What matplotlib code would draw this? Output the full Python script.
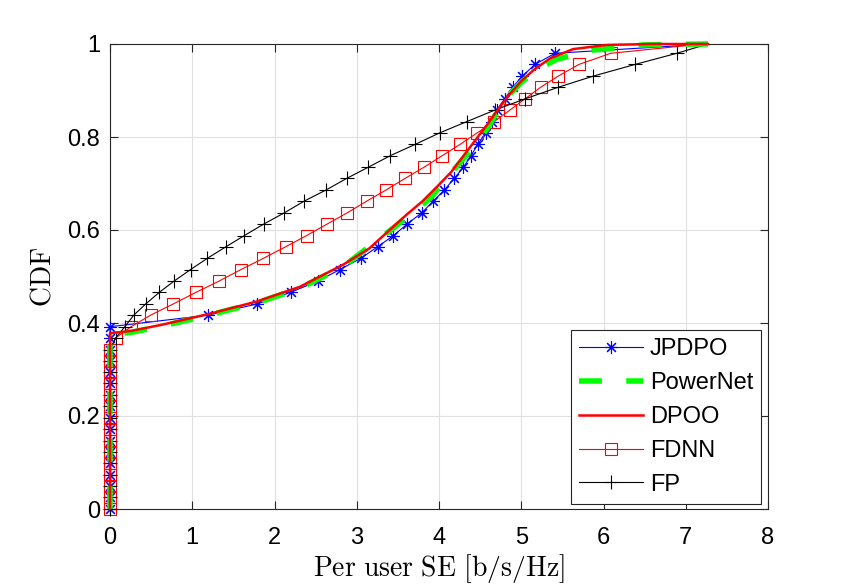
import matplotlib
matplotlib.use("Agg")
import matplotlib.pyplot as plt

# ---------------- data ----------------
cdf_levels = [0.000, 0.025, 0.049, 0.074, 0.098, 0.123, 0.147, 0.172, 0.196, 0.221,
              0.245, 0.270, 0.294, 0.319, 0.343, 0.368, 0.392, 0.417, 0.441, 0.466,
              0.490, 0.515, 0.539, 0.564, 0.588, 0.613, 0.637, 0.662, 0.686, 0.711,
              0.735, 0.760, 0.784, 0.809, 0.833, 0.858, 0.882, 0.907, 0.931, 0.956,
              0.980, 1.000]

jpdpo_se = [0, 0, 0, 0, 0, 0, 0, 0, 0, 0,
            0, 0, 0, 0, 0, 0, 0, 1.195, 1.79, 2.197,
            2.525, 2.796, 3.048, 3.254, 3.445, 3.615, 3.79, 3.93, 4.065, 4.186,
            4.296, 4.39, 4.47, 4.57, 4.64, 4.70, 4.80, 4.896, 5.013, 5.167,
            5.41, 7.27]

fdnn_se = [0, 0, 0, 0, 0, 0, 0, 0, 0, 0,
           0, 0, 0, 0, 0, 0.07, 0.255, 0.495, 0.77, 1.046,
           1.325, 1.593, 1.864, 2.136, 2.39, 2.642, 2.885, 3.12, 3.356, 3.587,
           3.818, 4.04, 4.255, 4.466, 4.67, 4.863, 5.046, 5.236, 5.45, 5.70,
           6.087, 7.2]

fp_se = [0, 0, 0, 0, 0, 0, 0, 0, 0, 0,
         0, 0, 0, 0, 0, 0.07, 0.18, 0.29, 0.434, 0.60,
         0.778, 0.98, 1.183, 1.41, 1.633, 1.872, 2.12, 2.36, 2.626, 2.878,
         3.14, 3.41, 3.708, 4.01, 4.337, 4.68, 5.046, 5.45, 5.876, 6.383,
         6.89, 7.27]

dpoo_se = [0, 0, 0.10, 0.26, 0.65, 1.216, 1.78, 2.31, 2.84, 3.15, 3.40, 3.60, 3.80,
           3.97, 4.15, 4.30, 4.45, 4.60, 4.72, 4.85, 5.00, 5.15, 5.35, 5.63, 6.04,
           6.60, 7.27]
dpoo_cdf = [0, 0.378, 0.380, 0.383, 0.397, 0.420, 0.446, 0.478, 0.526, 0.560, 0.600,
            0.632, 0.662, 0.692, 0.725, 0.760, 0.795, 0.830, 0.860, 0.890, 0.920,
            0.944, 0.969, 0.989, 0.998, 1.000, 1.000]

powernet_se = [0, 0, 0.26, 0.65, 1.20, 1.78, 2.30, 2.84, 3.40, 3.69, 3.89, 4.11, 4.30,
               4.47, 4.60, 4.72, 4.85, 5.00, 5.20, 5.43, 5.87, 6.14, 6.48, 6.77, 7.27]
powernet_cdf = [0, 0.375, 0.380, 0.394, 0.417, 0.443, 0.474, 0.522, 0.598, 0.639, 0.668,
                0.715, 0.754, 0.790, 0.822, 0.857, 0.890, 0.918, 0.946, 0.967, 0.987,
                0.991, 0.998, 0.999, 1.000]

x_ticks = [0, 1, 2, 3, 4, 5, 6, 7, 8]
y_ticks = [0, 0.2, 0.4, 0.6, 0.8, 1]
y_tick_labels = ["0", "0.2", "0.4", "0.6", "0.8", "1"]

# ---------------- style ----------------
plt.rcParams["font.family"] = ["Liberation Sans", "DejaVu Sans"]
plt.rcParams["mathtext.fontset"] = "cm"
plt.rcParams["lines.scale_dashes"] = False

fig = plt.figure(figsize=(8.5, 5.86), dpi=100)
ax = fig.add_axes([110 / 850, 77 / 586, 658 / 850, 465 / 586])

n = len(cdf_levels)
ax.plot(jpdpo_se, cdf_levels, color=(0, 0, 1), lw=0.8, marker=(8, 2, 0), ms=9,
        mew=0.8, markevery=list(range(n - 1)), label="JPDPO", zorder=3, clip_on=False)
ax.plot(powernet_se, powernet_cdf, color=(0, 1, 0), lw=4.0, dashes=(16.5, 17.5),
        label="PowerNet", zorder=4, clip_on=False)
ax.plot(dpoo_se, dpoo_cdf, color=(1, 0, 0), lw=1.8, label="DPOO", zorder=5, clip_on=False)
ax.plot(fdnn_se, cdf_levels, color=(1, 0, 0), lw=0.8, marker="s", ms=8.5,
        mfc="none", mew=0.8, markevery=list(range(n - 1)), label="FDNN", zorder=3,
        clip_on=False)
ax.plot(fp_se, cdf_levels, color="black", lw=0.8, marker="+", ms=10, mew=0.8,
        markevery=list(range(n - 1)), label="FP", zorder=3, clip_on=False)

ax.set_xlim(0, 8)
ax.set_ylim(0, 1)
ax.set_xticks(x_ticks)
ax.set_yticks(y_ticks)
ax.set_yticklabels(y_tick_labels)
ax.grid(True, color=(0.88, 0.88, 0.88), lw=0.8)
ax.set_axisbelow(True)
ax.tick_params(direction="in", length=6, width=0.8, top=True, right=True,
               labelsize=17, colors=(0.15, 0.15, 0.15), labelcolor="black")
ax.tick_params(axis="x", pad=13)
ax.tick_params(axis="y", pad=7)
for s in ax.spines.values():
    s.set_color((0.15, 0.15, 0.15))
    s.set_linewidth(0.8)

ax.set_xlabel(r"$\mathrm{Per\ user\ SE\ [b/s/Hz]}$", fontsize=20, labelpad=2)
ax.set_ylabel(r"$\mathrm{CDF}$", fontsize=20, labelpad=8)

leg = ax.legend(loc="lower right", bbox_to_anchor=(0.990, 0.011), borderaxespad=0,
                fontsize=17, handlelength=2.7, handletextpad=0.3, labelspacing=0.5,
                borderpad=0.35, fancybox=False, framealpha=1, numpoints=1)
leg.get_frame().set_edgecolor((0.15, 0.15, 0.15))
leg.get_frame().set_linewidth(0.8)

fig.savefig("out.png", dpi=100)
